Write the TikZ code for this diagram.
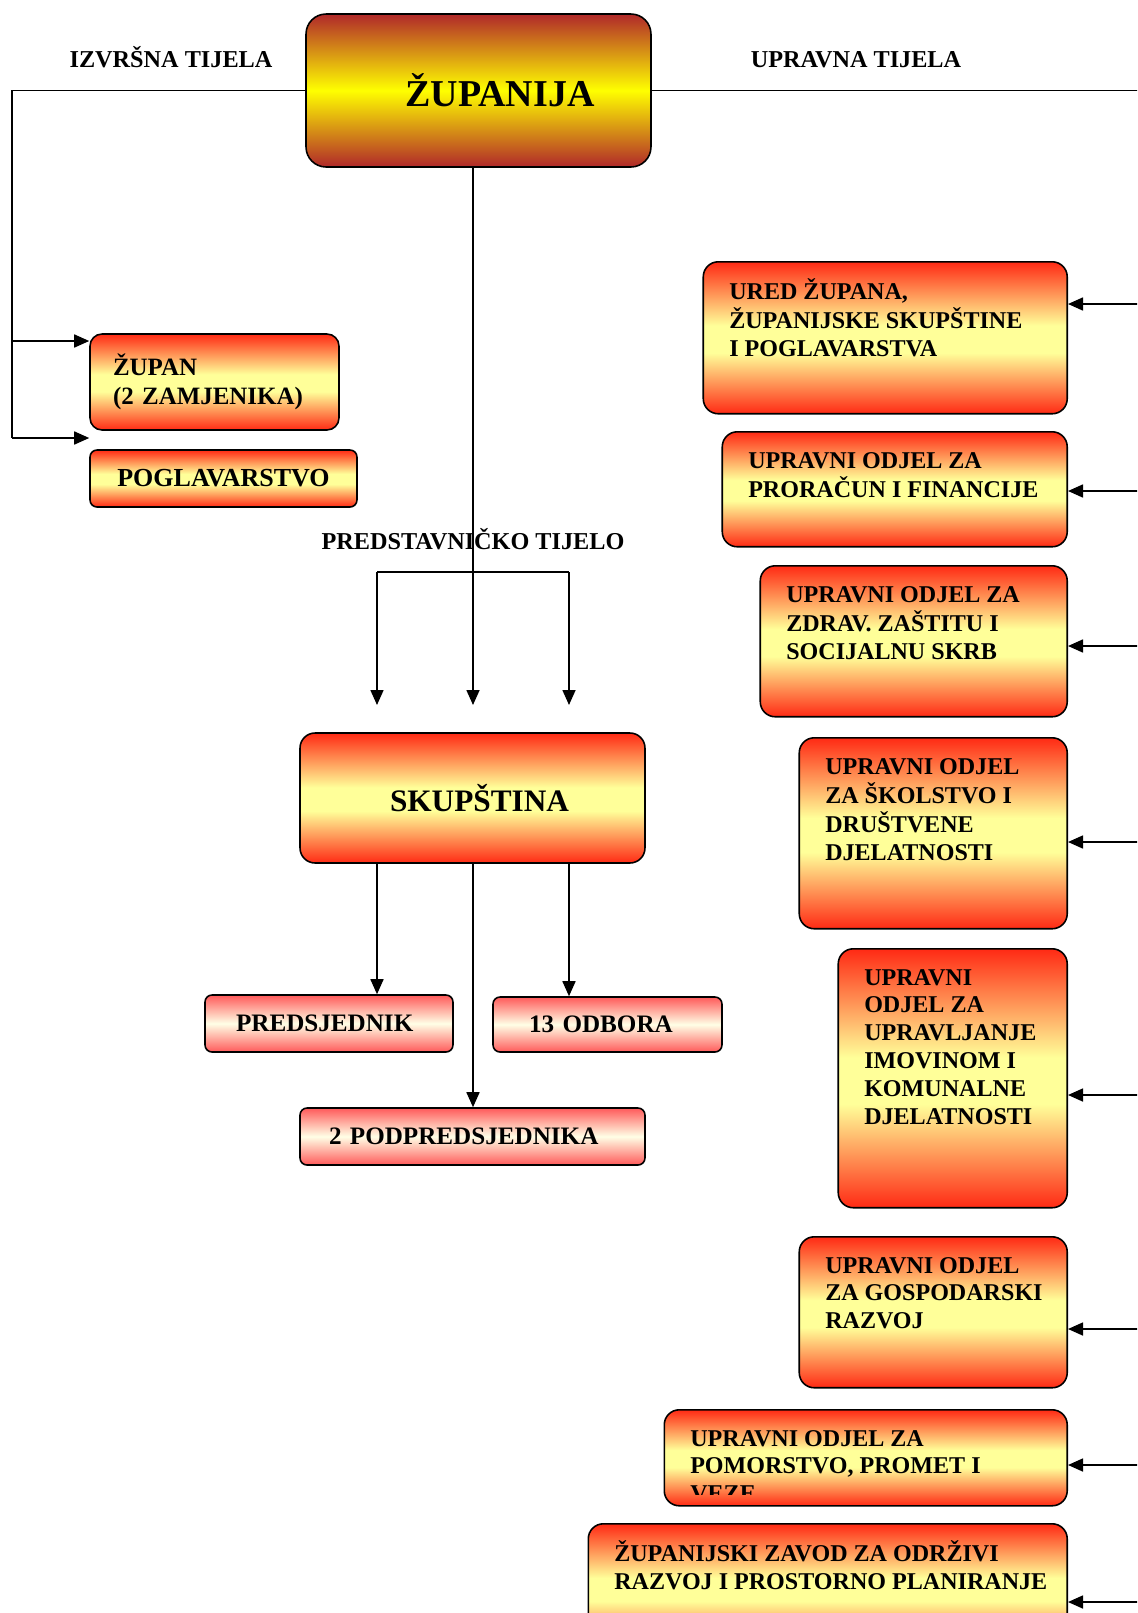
\documentclass[tikz,border=0pt]{standalone}
\usepackage{fontspec}
\setmainfont{Liberation Serif}
\usetikzlibrary{arrows.meta,calc}

\definecolor{zupred}{HTML}{B0282A}
\definecolor{boxred}{HTML}{FF2A14}
\definecolor{boxyellow}{HTML}{FFFF99}
\definecolor{smallred}{HTML}{FF5A5A}
\definecolor{smallcream}{HTML}{FFFFE6}

% red-yellow-red with a light band in the middle
\pgfdeclareverticalshading{unitshade}{100bp}{color(0bp)=(boxred); color(25bp)=(boxred);
  color(45bp)=(boxyellow); color(54bp)=(boxyellow); color(75bp)=(boxred); color(100bp)=(boxred)}

% text in the department boxes sits at the top
\newcommand{\depttext}[3]{\parbox[c][\dimexpr #2-0.64cm\relax][t]{\dimexpr #1-1.04cm\relax}{\begin{tabular}[t]{@{}l@{}}#3\end{tabular}}}

\begin{document}
\begin{tikzpicture}[
  x=0.02cm, y=-0.02cm,
  lbl/.style={font=\fontsize{13.8}{15.8}\selectfont\bfseries},
  boxbase/.style={draw, line width=0.9pt, font=\fontsize{13.7}{15.8}\selectfont\bfseries},
  mainbox/.style={boxbase, rounded corners=0.4cm, top color=zupred, bottom color=zupred,
    middle color=yellow, minimum width=6.9cm, minimum height=3.06cm,
    font=\fontsize{21.6}{24}\selectfont\bfseries},
  unit/.style={boxbase, rounded corners=0.3cm, shade, shading=unitshade},
  dept/.style={unit, anchor=north east, inner xsep=0.52cm, inner ysep=0.34cm},
  depttxt/.style={boxbase, draw=none, anchor=north east, inner xsep=0.52cm, inner ysep=0.34cm},
  member/.style={boxbase, rounded corners=0.14cm, top color=smallred, bottom color=smallred,
    middle color=smallcream, minimum height=1.14cm, align=left,
    font=\fontsize{14.3}{16}\selectfont\bfseries},
  arr/.style={-{Triangle[length=0.3cm, width=0.26cm]}, line width=0.9pt},
  link/.style={line width=0.9pt},
]
\useasboundingbox (0,0) rectangle (1137,1613);
\clip (0,0) rectangle (1137,1613);

% ===== top =====
\node[mainbox] (zup) at (478.5,90.5) {\hspace*{0.86cm}ŽUPANIJA};
\node[lbl] (izv) at (171,57) {IZVRŠNA TIJELA};
\node[lbl] (upr) at (856,60) {UPRAVNA TIJELA};

% ===== executive bodies =====
\node[unit, rounded corners=0.24cm, minimum width=4.98cm, minimum height=1.92cm,
  text width=4.06cm, inner xsep=0.46cm, align=left,
  font=\fontsize{14.2}{16.5}\selectfont\bfseries] (zupan) at (214.5,382) {ŽUPAN\\(2 ZAMJENIKA)};
\node[unit, rounded corners=0.14cm, minimum width=5.34cm, minimum height=1.14cm,
  font=\fontsize{14.8}{16}\selectfont\bfseries] (pog) at (223.5,478.5) {POGLAVARSTVO};

\coordinate (lcorner) at (12,90.5);
\coordinate (lmid) at (12,341);
\coordinate (lbot) at (12,438);
\draw[link] (zup.west) -- (lcorner) -- (lbot);
\draw[arr] (lmid) -- (lmid -| zupan.west);
\draw[arr] (lbot) -- (lbot -| pog.west);

% ===== representative body =====
\node[lbl] (predst) at (473,539) {PREDSTAVNIČKO TIJELO};
\node[unit, minimum width=6.9cm, minimum height=2.6cm,
  font=\fontsize{17.8}{20}\selectfont\bfseries] (skup) at (472.5,798) {\hspace*{0.28cm}SKUPŠTINA};
\node[member, minimum width=4.96cm, text width=3.72cm, inner xsep=0.62cm] (pres) at (329,1023.5) {PREDSJEDNIK};
\node[member, minimum width=4.58cm, minimum height=1.1cm, text width=3.14cm, inner xsep=0.72cm] (odb) at (607.5,1024.5) {13 ODBORA};
\node[member, minimum width=6.9cm, text width=5.74cm, inner xsep=0.58cm] (podp) at (472.5,1136.5) {2 PODPREDSJEDNIKA};

\coordinate (tip) at (473,705);
\coordinate (bl) at (377,572);
\coordinate (br) at (569,572);
\draw[arr] (tip |- zup.south) -- (tip);
\draw[link] (bl) -- (br);
\draw[arr] (bl) -- (bl |- tip);
\draw[arr] (br) -- (br |- tip);

\draw[arr] (bl |- skup.south) -- (bl |- pres.north);
\draw[arr] (tip |- skup.south) -- (tip |- podp.north);
\draw[arr] (br |- skup.south) -- (br |- odb.north);

% ===== administrative bodies =====
\node[dept] (d1) at (1068,261) {\depttext{7.28cm}{3.0cm}{URED ŽUPANA,\\ŽUPANIJSKE SKUPŠTINE\\I POGLAVARSTVA}};
\node[dept] (d2) at (1068,431) {\depttext{6.9cm}{2.26cm}{UPRAVNI ODJEL ZA\\PRORAČUN I FINANCIJE}};
\node[dept] (d3) at (1068,565) {\depttext{6.14cm}{2.98cm}{UPRAVNI ODJEL ZA\\ZDRAV. ZAŠTITU I\\SOCIJALNU SKRB}};
\node[dept] (d4) at (1068,737) {\depttext{5.36cm}{3.78cm}{UPRAVNI ODJEL\\ZA ŠKOLSTVO I\\DRUŠTVENE\\DJELATNOSTI}};
\node[dept] (d5) at (1068,948) {\depttext{4.58cm}{5.14cm}{UPRAVNI\\ODJEL ZA\\UPRAVLJANJE\\IMOVINOM I\\KOMUNALNE\\DJELATNOSTI}};
\node[dept] (d6) at (1068,1236) {\depttext{5.36cm}{2.98cm}{UPRAVNI ODJEL\\ZA GOSPODARSKI\\RAZVOJ}};
\node[dept] (d7) at (1068,1409) {\depttext{8.06cm}{1.88cm}{}};
\begin{scope}
  \clip (d7.north west) rectangle ([yshift=0.24cm]d7.south east);
  \node[depttxt] (d7txt) at (1068,1409) {\depttext{8.06cm}{1.88cm}{UPRAVNI ODJEL ZA\\POMORSTVO, PROMET I\\VEZE}};
\end{scope}
\node[dept] (d8) at (1068,1523) {\depttext{9.58cm}{2.54cm}{ŽUPANIJSKI ZAVOD ZA ODRŽIVI\\RAZVOJ I PROSTORNO PLANIRANJE}};

\coordinate (rcorner) at (1160,93);
\coordinate (rbot) at (1160,1640);
\draw[link] (zup.east) -- (zup.east -| rcorner) -- (rbot);
\foreach \d/\y in {d1/304, d2/491, d3/646, d4/842, d5/1095, d6/1329, d7/1465, d8/1602}
  \draw[arr] (rcorner |- 0,\y) -- (\d.east |- 0,\y);

\end{tikzpicture}
\end{document}
